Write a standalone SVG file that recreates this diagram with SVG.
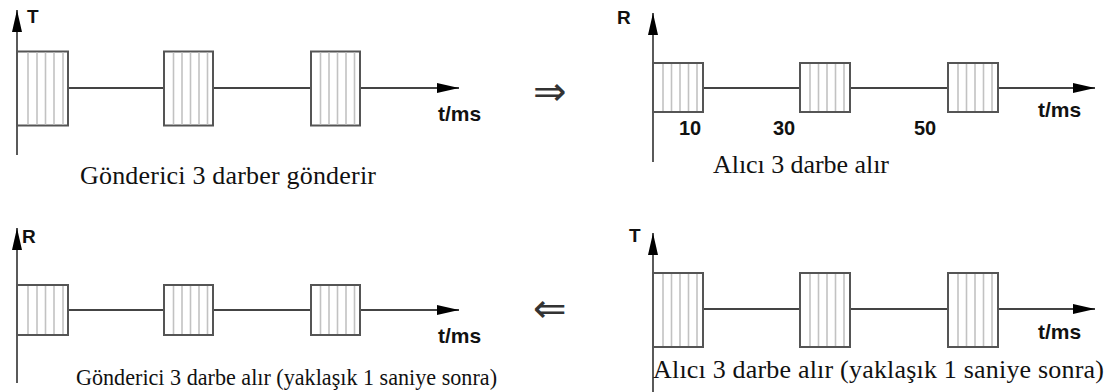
<svg xmlns="http://www.w3.org/2000/svg" width="1115" height="392" viewBox="0 0 1115 392">
  <style>
    .axis { stroke: #303030; stroke-width: 1.6; fill: none; }
    .sig { stroke: #444; stroke-width: 2; fill: none; }
    .box { fill: #fff; stroke: #555; stroke-width: 2; }
    .hatch { stroke: #c2c2c2; stroke-width: 1.6; fill: none; }
    .ax { font-family: "Liberation Sans", Arial, sans-serif; font-weight: bold; font-size: 19px; fill: #111; }
    .unit { font-family: "Liberation Sans", Arial, sans-serif; font-weight: bold; font-size: 21px; fill: #111; }
    .tick { font-family: "Liberation Sans", Arial, sans-serif; font-weight: bold; font-size: 20px; fill: #111; }
    .cap { font-family: "Liberation Serif", "Times New Roman", serif; fill: #111; }
    .sym { font-family: "DejaVu Sans", sans-serif; font-size: 40px; fill: #333; }
  </style>
  <defs>
    <marker id="head" viewBox="0 0 22 10" refX="22" refY="5" markerWidth="22" markerHeight="10" markerUnits="userSpaceOnUse" orient="auto">
      <path d="M0,0 L22,5 L0,10 Z" fill="#000"/>
    </marker>
  </defs>

  <!-- Sender: three pulses sent -->
  <g id="panel-send">
    <path class="axis" d="M17,155 V10" marker-end="url(#head)"/>
    <path class="sig" d="M68,88 H164 M213,88 H311 M360,88 H459" marker-end="url(#head)"/>
    <rect class="box" x="17" y="51.5" width="51" height="74"/>
    <path class="hatch" d="M28,52.5 V124.5 M37,52.5 V124.5 M45.5,52.5 V124.5 M54,52.5 V124.5 M63,52.5 V124.5"/>
    <rect class="box" x="164" y="51.5" width="49" height="74"/>
    <path class="hatch" d="M173.5,52.5 V124.5 M182,52.5 V124.5 M190.5,52.5 V124.5 M199,52.5 V124.5 M207.5,52.5 V124.5"/>
    <rect class="box" x="311" y="51.5" width="49" height="74"/>
    <path class="hatch" d="M320.5,52.5 V124.5 M329,52.5 V124.5 M337.5,52.5 V124.5 M346,52.5 V124.5 M354.5,52.5 V124.5"/>
    <text class="ax" x="27" y="23">T</text>
    <text class="unit" x="438" y="121">t/ms</text>
    <text class="cap" x="80" y="184" font-size="26" textLength="296">Gönderici 3 darber gönderir</text>
  </g>

  <!-- Receiver: three pulses received -->
  <g id="panel-receive">
    <path class="axis" d="M653,162 V13" marker-end="url(#head)"/>
    <path class="sig" d="M703,88 H800 M850,88 H948 M998,88 H1095" marker-end="url(#head)"/>
    <rect class="box" x="653" y="63" width="50" height="49"/>
    <path class="hatch" d="M663,64 V111 M671.5,64 V111 M680,64 V111 M688.5,64 V111 M697,64 V111"/>
    <rect class="box" x="800" y="63" width="50" height="49"/>
    <path class="hatch" d="M810,64 V111 M818.5,64 V111 M827,64 V111 M835.5,64 V111 M844,64 V111"/>
    <rect class="box" x="948" y="63" width="50" height="49"/>
    <path class="hatch" d="M958,64 V111 M966.5,64 V111 M975,64 V111 M983.5,64 V111 M992,64 V111"/>
    <text class="ax" x="617" y="24">R</text>
    <text class="unit" x="1038" y="117">t/ms</text>
    <text class="tick" x="679" y="135">10</text>
    <text class="tick" x="773" y="135">30</text>
    <text class="tick" x="914" y="135">50</text>
    <text class="cap" x="713" y="173" font-size="26" textLength="176">Alıcı 3 darbe alır</text>
  </g>

  <!-- Sender: echo received about one second later -->
  <g id="panel-echo">
    <path class="axis" d="M17,383 V228" marker-end="url(#head)"/>
    <path class="sig" d="M68,310 H164 M213,310 H311 M360,310 H459" marker-end="url(#head)"/>
    <rect class="box" x="17" y="285" width="51" height="50"/>
    <path class="hatch" d="M28,286 V334 M37,286 V334 M45.5,286 V334 M54,286 V334 M63,286 V334"/>
    <rect class="box" x="164" y="285" width="49" height="50"/>
    <path class="hatch" d="M173.5,286 V334 M182,286 V334 M190.5,286 V334 M199,286 V334 M207.5,286 V334"/>
    <rect class="box" x="311" y="285" width="49" height="50"/>
    <path class="hatch" d="M320.5,286 V334 M329,286 V334 M337.5,286 V334 M346,286 V334 M354.5,286 V334"/>
    <text class="ax" x="22" y="243">R</text>
    <text class="unit" x="438" y="343">t/ms</text>
    <text class="cap" x="76" y="385" font-size="23" textLength="421" lengthAdjust="spacingAndGlyphs">Gönderici 3 darbe alır (yaklaşık 1 saniye sonra)</text>
  </g>

  <!-- Receiver: pulses sent back -->
  <g id="panel-reply">
    <path class="axis" d="M653,392 V233" marker-end="url(#head)"/>
    <path class="sig" d="M703,309 H800 M850,309 H948 M998,309 H1095" marker-end="url(#head)"/>
    <rect class="box" x="653" y="273" width="50" height="74"/>
    <path class="hatch" d="M663,274 V346 M671.5,274 V346 M680,274 V346 M688.5,274 V346 M697,274 V346"/>
    <rect class="box" x="800" y="273" width="50" height="74"/>
    <path class="hatch" d="M810,274 V346 M818.5,274 V346 M827,274 V346 M835.5,274 V346 M844,274 V346"/>
    <rect class="box" x="948" y="273" width="50" height="74"/>
    <path class="hatch" d="M958,274 V346 M966.5,274 V346 M975,274 V346 M983.5,274 V346 M992,274 V346"/>
    <text class="ax" x="629" y="242">T</text>
    <text class="unit" x="1038" y="339">t/ms</text>
    <text class="cap" x="653" y="378" font-size="26" textLength="451">Alıcı 3 darbe alır (yaklaşık 1 saniye sonra)</text>
  </g>

  <!-- Flow between the four stages -->
  <g id="connectors">
    <text class="sym" x="533" y="105">⇒</text>
    <text class="sym" x="533" y="322">⇐</text>
  </g>
</svg>
